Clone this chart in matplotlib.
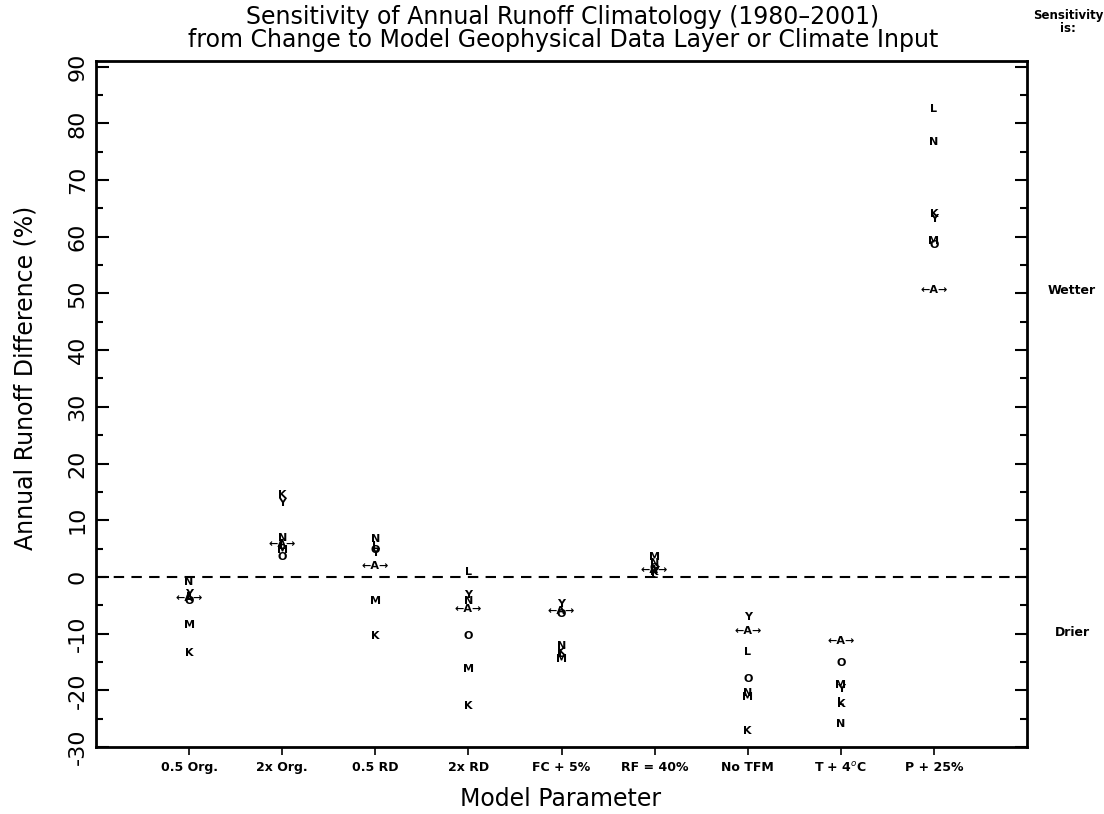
import matplotlib
matplotlib.use("Agg")
import matplotlib.pyplot as plt
from matplotlib.ticker import MultipleLocator, FixedLocator

# ---- data ----
categories = ["0.5 Org.", "2x Org.", "0.5 RD", "2x RD", "FC + 5%", "RF = 40%",
              "No TFM", "T + 4$^{o}$C", "P + 25%"]
A_vals = [-3.8, 5.8, 1.9, -5.7, -6.0, 1.2, -9.6, -11.3, 50.6]
K_vals = [-13.5, 14.5, -10.4, -22.8, -13.2, 0.8, -27.1, -22.4, 64.1]
L_vals = [-3.5, 5.5, 5.5, 0.8, -13.6, 0.3, -13.2, -22.0, 82.5]
M_vals = [-8.5, 4.8, -4.2, -16.3, -14.4, 3.6, -21.2, -19.0, 59.3]
N_vals = [-0.9, 6.8, 6.6, -4.2, -12.2, 2.5, -20.5, -25.9, 76.8]
O_vals = [-4.2, 3.6, 4.8, -10.4, -6.6, 1.6, -18.0, -15.2, 58.6]
Y_vals = [-3.0, 13.0, 4.2, -3.2, -4.7, 1.0, -7.0, -19.8, 63.1]
series = {"K": K_vals, "L": L_vals, "M": M_vals, "N": N_vals,
          "O": O_vals, "Y": Y_vals}
yticks = [-30, -20, -10, 0, 10, 20, 30, 40, 50, 60, 70, 80, 90]

fig = plt.figure(figsize=(11.04, 8.14), dpi=100)
ax = fig.add_axes([96 / 1104, 1 - 747 / 814, (1027 - 96) / 1104, (747 - 61) / 814])

xs = list(range(1, len(categories) + 1))
for letter, vals in series.items():
    for x, v in zip(xs, vals):
        ax.text(x, v, letter, ha="center", va="center", fontsize=8,
                fontweight="bold", color="black")
for x, v in zip(xs, A_vals):
    ax.text(x, v, "\u2190A\u2192", ha="center", va="center", fontsize=8,
            fontweight="bold", color="black")

ax.axhline(0, color="black", lw=1.5, dashes=(5, 3.5))

ax.set_xlim(0, 10)
ax.set_ylim(-30, 91)
ax.xaxis.set_major_locator(FixedLocator(xs))
ax.set_xticklabels(categories, fontsize=9, fontweight="bold")
ax.yaxis.set_major_locator(FixedLocator(yticks))
ax.yaxis.set_minor_locator(MultipleLocator(5))
ax.set_yticklabels([str(t) for t in yticks], rotation=90, va="center",
                   fontsize=16)

ax.tick_params(axis="y", which="major", direction="in", length=9, width=1.5,
               left=True, right=True, pad=6)
ax.tick_params(axis="y", which="minor", direction="in", length=5, width=1.5,
               left=True, right=True)
ax.tick_params(axis="x", which="major", direction="out", length=6, width=1.2,
               pad=4)
for s in ax.spines.values():
    s.set_linewidth(2)

fig.text(561 / 1104, 1 - 799 / 814, "Model Parameter", ha="center",
         va="center", fontsize=17)
fig.text(26 / 1104, 1 - 378 / 814, "Annual Runoff Difference (%)", rotation=90,
         ha="center", va="center", fontsize=17)

fig.text(563 / 1104, 1 - 17 / 814,
         "Sensitivity of Annual Runoff Climatology (1980\u20132001)",
         ha="center", va="center", fontsize=17)
fig.text(563 / 1104, 1 - 40 / 814,
         "from Change to Model Geophysical Data Layer or Climate Input",
         ha="center", va="center", fontsize=17)

fig.text(1068 / 1104, 1 - 22 / 814, "Sensitivity\nis:", ha="center",
         va="center", fontsize=8.5, fontweight="bold", linespacing=1.0)
fig.text(1072 / 1104, 1 - 291 / 814, "Wetter", ha="center", va="center",
         fontsize=9, fontweight="bold")
fig.text(1072 / 1104, 1 - 632 / 814, "Drier", ha="center", va="center",
         fontsize=9, fontweight="bold")

fig.savefig("out.png", dpi=100)
